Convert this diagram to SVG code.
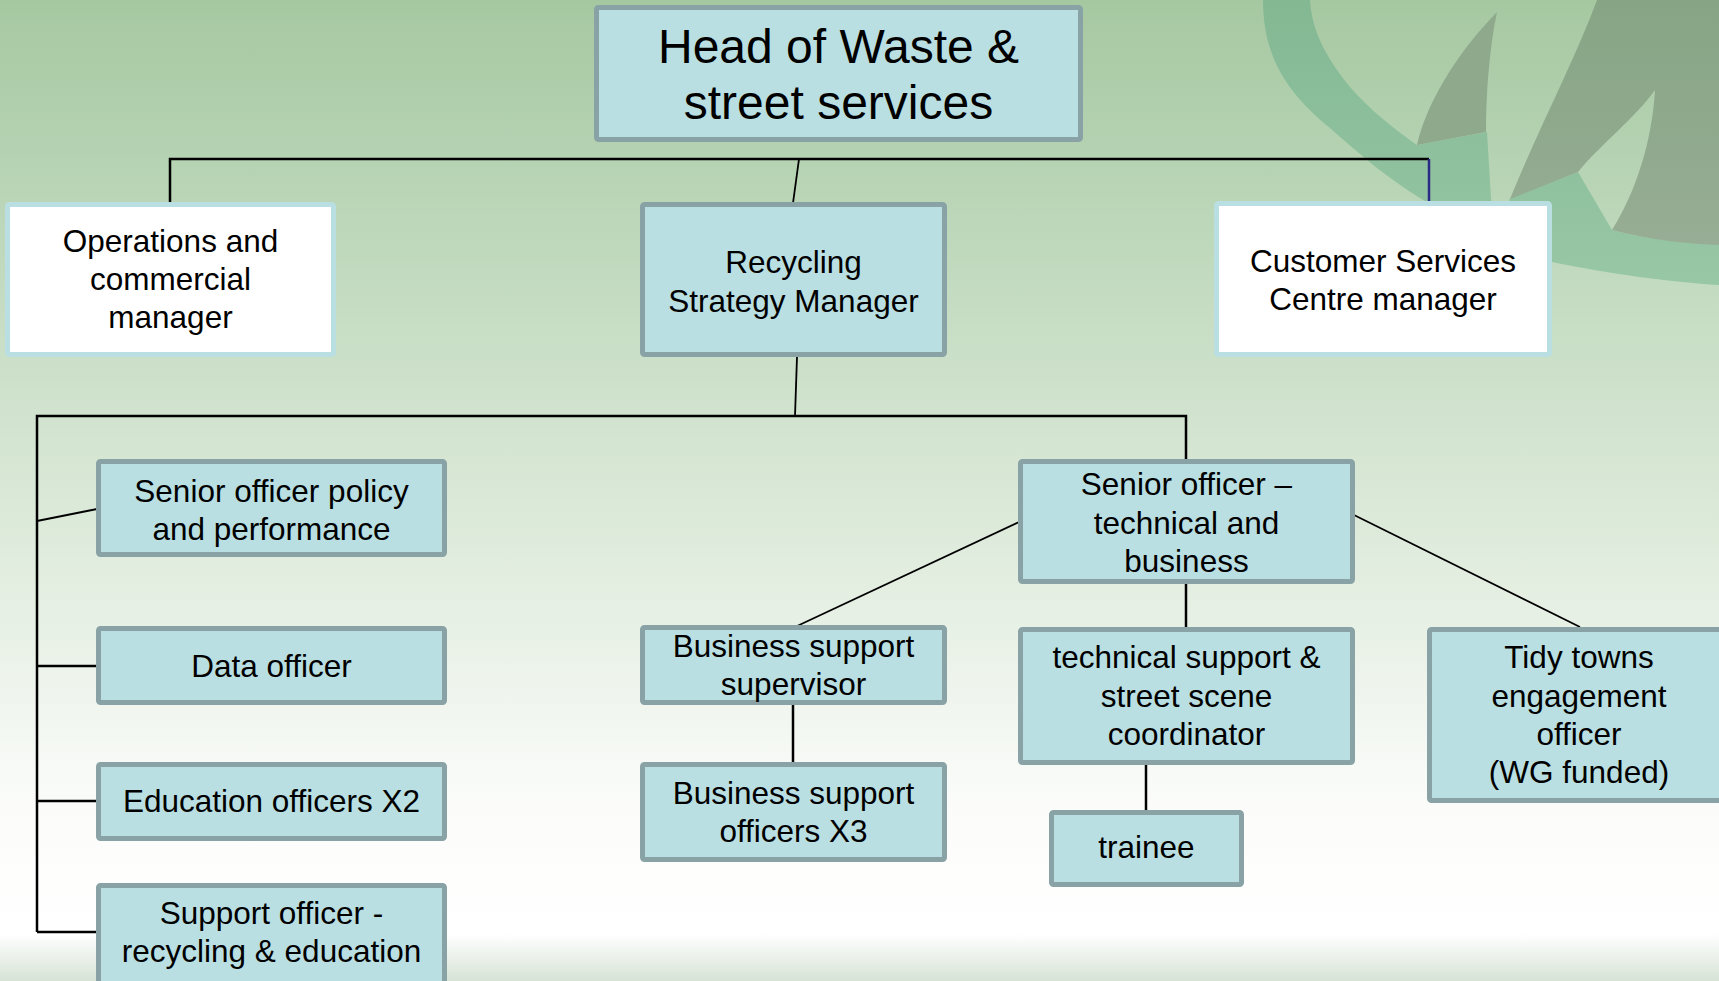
<svg xmlns="http://www.w3.org/2000/svg" width="1719" height="981" viewBox="0 0 1719 981">
  <defs>
    <linearGradient id="bg" x1="0" y1="0" x2="0" y2="1">
      <stop offset="0" stop-color="#a6c8a1"/>
      <stop offset="0.15" stop-color="#b4d2b1"/>
      <stop offset="0.45" stop-color="#d4e5d1"/>
      <stop offset="0.66" stop-color="#eaf2e8"/>
      <stop offset="0.82" stop-color="#fbfcfa"/>
      <stop offset="0.95" stop-color="#ffffff"/>
    </linearGradient>
    <linearGradient id="band" x1="0" y1="0" x2="0" y2="1">
      <stop offset="0" stop-color="#ffffff"/>
      <stop offset="1" stop-color="#d6e3d5"/>
    </linearGradient>
    <linearGradient id="ringFill" x1="0" y1="0" x2="0" y2="1">
      <stop offset="0" stop-color="#83b893"/>
      <stop offset="1" stop-color="#98c7a6"/>
    </linearGradient>
    <linearGradient id="leafFill" x1="0" y1="0" x2="0" y2="1">
      <stop offset="0" stop-color="#87a585"/>
      <stop offset="1" stop-color="#97ad95"/>
    </linearGradient>
    <style>
      .box { fill: #b9dfe2; stroke: #88a2a5; stroke-width: 5; }
      .wbox { fill: #ffffff; stroke: #b9dfe2; stroke-width: 5; }
      .lbl { font-family: "Liberation Sans", Arial, sans-serif; font-size: 31.5px; fill: #000; text-anchor: middle; }
      .big { font-size: 48px; }
      .ln { stroke: #000; stroke-width: 2.5; fill: none; }
      .sl { stroke: #000; stroke-width: 1.8; fill: none; }
    </style>
  </defs>

  <!-- slide background -->
  <rect x="0" y="0" width="1719" height="981" fill="url(#bg)"/>
  <rect x="0" y="934" width="1719" height="47" fill="url(#band)"/>

  <!-- decorative ring and leaves, top right -->
  <g id="emblem">
    <path fill="url(#ringFill)" d="M1263,0 C1263,60 1290,95 1330,128 C1360,155 1390,180 1423,200 L1552,262 C1610,274 1670,282 1719,285 L1719,244 C1690,243 1650,240 1612,230 L1578,172 L1510,198 L1505,215 L1492,215 L1487,132 L1417,145 C1395,130 1368,108 1350,87 C1330,62 1312,35 1310,0 Z"/>
    <path fill="#8ea98c" d="M1417,145 C1426,105 1455,55 1497,12 C1489,50 1486,95 1486,132 Z"/>
    <path fill="url(#leafFill)" d="M1597,0 C1575,60 1540,125 1510,199 L1578,172 C1600,145 1635,118 1655,90 C1652,140 1637,190 1612,230 C1650,240 1690,244 1719,245 L1719,0 Z"/>
  </g>

  <!-- connectors -->
  <g id="connectors">
    <polyline class="ln" points="170,204 170,159 1429,159"/>
    <line x1="1429" y1="159" x2="1429" y2="203" stroke="#2b2b85" stroke-width="2.5"/>
    <line class="sl" x1="799" y1="159" x2="793" y2="203"/>
    <line class="sl" x1="797" y1="357" x2="795" y2="416"/>
    <polyline class="ln" points="37,932 37,416 1186,416 1186,460"/>
    <line class="sl" x1="37" y1="521" x2="97" y2="509"/>
    <line class="ln" x1="37" y1="666" x2="97" y2="666"/>
    <line class="ln" x1="37" y1="801" x2="97" y2="801"/>
    <line class="ln" x1="37" y1="932" x2="97" y2="932"/>
    <line class="sl" x1="1019" y1="522" x2="795" y2="627"/>
    <line class="sl" x1="1354" y1="515" x2="1580" y2="627"/>
    <line class="ln" x1="1186" y1="584" x2="1186" y2="628"/>
    <line class="ln" x1="793" y1="705" x2="793" y2="763"/>
    <line class="ln" x1="1146" y1="765" x2="1146" y2="811"/>
  </g>

  <g id="head">
    <rect class="box" x="596.5" y="7.5" width="484" height="132" rx="2"/>
    <text class="lbl big" x="838.5" y="63">Head of Waste &amp;</text>
    <text class="lbl big" x="838.5" y="119">street services</text>
  </g>

  <g id="operations">
    <rect class="wbox" x="7.5" y="204.5" width="326" height="150" rx="2"/>
    <text class="lbl" x="170.5" y="252">Operations and</text>
    <text class="lbl" x="170.5" y="290">commercial</text>
    <text class="lbl" x="170.5" y="328">manager</text>
  </g>

  <g id="recycling">
    <rect class="box" x="642.5" y="204.5" width="302" height="150" rx="2"/>
    <text class="lbl" x="793.5" y="273">Recycling</text>
    <text class="lbl" x="793.5" y="312">Strategy Manager</text>
  </g>

  <g id="customer">
    <rect class="wbox" x="1216.5" y="203.5" width="333" height="151" rx="2"/>
    <text class="lbl" x="1383" y="272">Customer Services</text>
    <text class="lbl" x="1383" y="310">Centre manager</text>
  </g>

  <g id="policy">
    <rect class="box" x="98.5" y="461.5" width="346" height="93" rx="2"/>
    <text class="lbl" x="271.5" y="502">Senior officer policy</text>
    <text class="lbl" x="271.5" y="540">and performance</text>
  </g>

  <g id="data">
    <rect class="box" x="98.5" y="628.5" width="346" height="74" rx="2"/>
    <text class="lbl" x="271.5" y="677">Data officer</text>
  </g>

  <g id="education">
    <rect class="box" x="98.5" y="764.5" width="346" height="74" rx="2"/>
    <text class="lbl" x="271.5" y="812">Education officers X2</text>
  </g>

  <g id="support">
    <rect class="box" x="98.5" y="885.5" width="346" height="110" rx="2"/>
    <text class="lbl" x="271.5" y="924">Support officer -</text>
    <text class="lbl" x="271.5" y="962">recycling &amp; education</text>
  </g>

  <g id="senior-technical">
    <rect class="box" x="1020.5" y="461.5" width="332" height="120" rx="2"/>
    <text class="lbl" x="1186.5" y="495">Senior officer –</text>
    <text class="lbl" x="1186.5" y="534">technical and</text>
    <text class="lbl" x="1186.5" y="572">business</text>
  </g>

  <g id="business-supervisor">
    <rect class="box" x="642.5" y="627.5" width="302" height="75" rx="2"/>
    <text class="lbl" x="793.5" y="657">Business support</text>
    <text class="lbl" x="793.5" y="695">supervisor</text>
  </g>

  <g id="business-officers">
    <rect class="box" x="642.5" y="764.5" width="302" height="95" rx="2"/>
    <text class="lbl" x="793.5" y="804">Business support</text>
    <text class="lbl" x="793.5" y="842">officers X3</text>
  </g>

  <g id="technical-support">
    <rect class="box" x="1020.5" y="629.5" width="332" height="133" rx="2"/>
    <text class="lbl" x="1186.5" y="668">technical support &amp;</text>
    <text class="lbl" x="1186.5" y="707">street scene</text>
    <text class="lbl" x="1186.5" y="745">coordinator</text>
  </g>

  <g id="trainee">
    <rect class="box" x="1051.5" y="812.5" width="190" height="72" rx="2"/>
    <text class="lbl" x="1146.5" y="858">trainee</text>
  </g>

  <g id="tidy-towns">
    <rect class="box" x="1429.5" y="629.5" width="303" height="171" rx="2"/>
    <text class="lbl" x="1579" y="668">Tidy towns</text>
    <text class="lbl" x="1579" y="707">engagement</text>
    <text class="lbl" x="1579" y="745">officer</text>
    <text class="lbl" x="1579" y="783">(WG funded)</text>
  </g>
</svg>
